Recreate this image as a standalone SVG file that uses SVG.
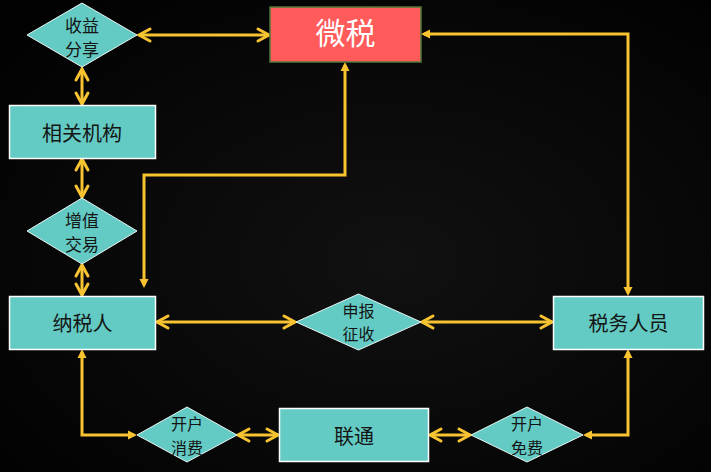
<svg xmlns="http://www.w3.org/2000/svg" width="711" height="472" viewBox="0 0 711 472">
  <defs>
    <radialGradient id="bg" cx="55%" cy="55%" r="70%">
      <stop offset="0" stop-color="#111111"/>
      <stop offset="1" stop-color="#020202"/>
    </radialGradient>
    <marker id="chev" viewBox="-16 -9 20 18" markerWidth="20" markerHeight="18" refX="0" refY="0" orient="auto-start-reverse" markerUnits="userSpaceOnUse">
      <path d="M-11,-6 L0,0 L-11,6" fill="none" stroke="#F7C331" stroke-width="3" stroke-linejoin="miter" stroke-linecap="round"/>
    </marker>
    <marker id="tri" viewBox="-8 -6 12 12" markerWidth="12" markerHeight="12" refX="0" refY="0" orient="auto-start-reverse" markerUnits="userSpaceOnUse">
      <path d="M-6,-4.5 L3,0 L-6,4.5 Z" fill="#F7C331"/>
    </marker>
    <style>
      .box { fill: #63CBC3; stroke: #FFFFFF; stroke-width: 1.5; }
      .dia { fill: #63CBC3; stroke: #E8F6F4; stroke-width: 1; }
      .lbl { font-family: "Noto Sans CJK SC", "Noto Sans", sans-serif; fill: #141414; text-anchor: middle; dominant-baseline: central; }
      .big { font-size: 20px; }
      .sm { font-size: 17px; }
      .xs { font-size: 16px; }
      .c2 { fill: none; stroke: #F7C331; stroke-width: 3; marker-start: url(#chev); marker-end: url(#chev); }
      .t2 { fill: none; stroke: #F7C331; stroke-width: 3; marker-start: url(#tri); marker-end: url(#tri); }
    </style>
  </defs>
  <rect x="0" y="0" width="711" height="472" fill="url(#bg)"/>

  <g id="connectors">
    <path class="c2" d="M139,35 L269,35"/>
    <path class="c2" d="M82,69 L82,104"/>
    <path class="c2" d="M82,159 L82,197"/>
    <path class="c2" d="M82,265 L82,295"/>
    <path class="c2" d="M157,322 L295,322"/>
    <path class="c2" d="M422,322 L552,322"/>
    <path class="c2" d="M238,435 L278,435"/>
    <path class="c2" d="M430,435 L470,435"/>
    <path class="t2" d="M345,65 L345,175 L144,175 L144,285"/>
    <path class="t2" d="M424,34 L628,34 L628,293"/>
    <path class="t2" d="M82,352 L82,435 L134,435"/>
    <path class="t2" d="M628,352 L628,435 L586,435"/>
  </g>

  <g id="weishui">
    <rect x="270" y="7" width="151" height="55" fill="#FF5B5B" stroke="#4E7A3A" stroke-width="1.5"/>
    <text x="345.5" y="31" font-family="Noto Sans CJK SC, sans-serif" font-size="30" fill="#FFFFFF" text-anchor="middle" dominant-baseline="central">微税</text>
  </g>

  <g id="shouyi">
    <polygon class="dia" points="82,3 137,35 82,67 27,35"/>
    <text class="lbl sm"><tspan x="82" y="24">收益</tspan><tspan x="82" y="47.5">分享</tspan></text>
  </g>

  <g id="xiangguan">
    <rect class="box" x="9.5" y="105.5" width="146" height="53"/>
    <text class="lbl big" x="82" y="132">相关机构</text>
  </g>

  <g id="zengzhi">
    <polygon class="dia" points="82,198 137,231 82,264 27,231"/>
    <text class="lbl sm"><tspan x="82" y="219">增值</tspan><tspan x="82" y="242.5">交易</tspan></text>
  </g>

  <g id="nashuiren">
    <rect class="box" x="9.5" y="296.5" width="146" height="53"/>
    <text class="lbl big" x="82.5" y="322">纳税人</text>
  </g>

  <g id="shenbao">
    <polygon class="dia" points="358.5,294 421,322 358.5,350 296,322"/>
    <text class="lbl xs"><tspan x="358.5" y="309.5">申报</tspan><tspan x="358.5" y="333">征收</tspan></text>
  </g>

  <g id="shuiwu">
    <rect class="box" x="553.5" y="296.5" width="150" height="53"/>
    <text class="lbl big" x="628.5" y="322">税务人员</text>
  </g>

  <g id="kaihu1">
    <polygon class="dia" points="187,407 237,435 187,462 137,435"/>
    <text class="lbl xs"><tspan x="187" y="423">开户</tspan><tspan x="187" y="446.5">消费</tspan></text>
  </g>

  <g id="liantong">
    <rect class="box" x="279.5" y="408.5" width="149" height="53"/>
    <text class="lbl big" x="354" y="435">联通</text>
  </g>

  <g id="kaihu2">
    <polygon class="dia" points="527,407 583,435 527,462 471,435"/>
    <text class="lbl xs"><tspan x="527" y="423">开户</tspan><tspan x="527" y="446.5">免费</tspan></text>
  </g>
</svg>
